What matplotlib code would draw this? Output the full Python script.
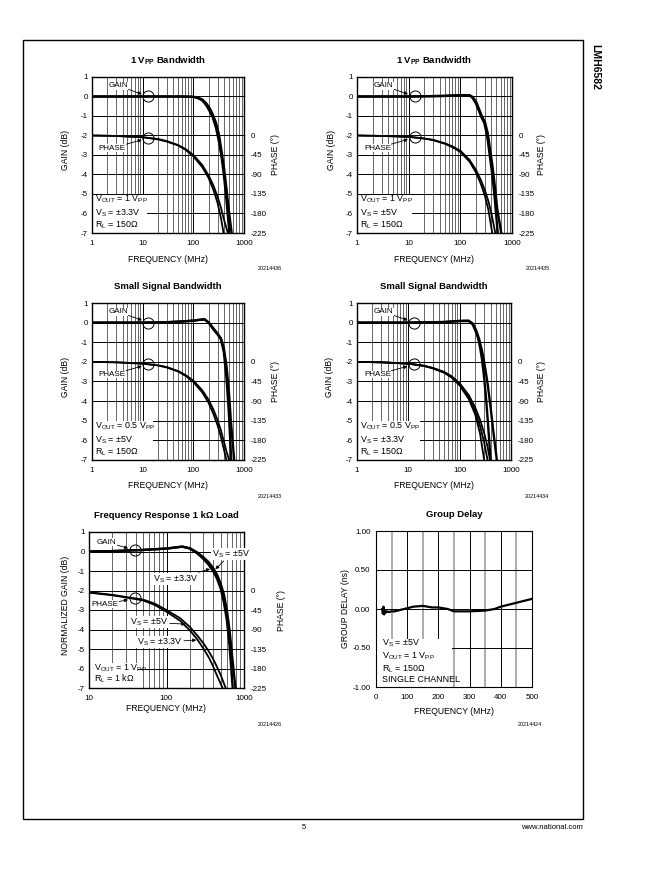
import numpy as np
import matplotlib
matplotlib.use('Agg')
import matplotlib.pyplot as plt
from matplotlib.patches import Rectangle
from matplotlib.ticker import LogLocator, NullFormatter, MultipleLocator

plt.rcParams['font.family'] = ['Liberation Sans', 'DejaVu Sans']
plt.rcParams['mathtext.fontset'] = 'custom'
plt.rcParams['mathtext.rm'] = 'Liberation Sans'
plt.rcParams['mathtext.bf'] = 'Liberation Sans:bold'
plt.rcParams['axes.unicode_minus'] = False

# ---- 1 Vpp bandwidth, Vs = +/-3.3V
p1_gain_f = [[1, 10, 50, 100, 120, 150, 180, 210, 240, 280, 320, 360, 400, 450, 515],
             [1, 10, 50, 100, 120, 150, 180, 210, 240, 280, 320, 360, 400, 450, 500, 570]]
p1_gain_db = [[0, 0, 0, -0.02, -0.07, -0.2, -0.45, -0.75, -1.05, -1.6, -2.3, -3.1, -4.0, -5.3, -7],
              [0, 0, 0, -0.01, -0.05, -0.15, -0.35, -0.6, -0.9, -1.35, -1.95, -2.8, -3.6, -4.7, -5.8, -7]]
p1_phase_f = [[1, 3, 10, 20, 30, 50, 70, 100, 150, 200, 250, 300, 350, 395],
              [1, 3, 10, 20, 30, 50, 70, 100, 150, 200, 250, 300, 350, 400, 480]]
p1_phase_deg = [[0, -1, -4, -9, -14, -23, -33, -48, -73, -98, -126, -155, -190, -225],
                [0, -1, -4, -8, -13, -22, -31, -45, -68, -92, -116, -141, -166, -193, -225]]

# ---- 1 Vpp bandwidth, Vs = +/-5V
p2_gain_f = [[1, 10, 50, 100, 150, 170, 200, 230, 260, 290, 330, 370, 410, 455, 530],
             [1, 10, 50, 100, 150, 175, 205, 235, 265, 300, 340, 380, 420, 470, 520, 620]]
p2_gain_db = [[0, 0, 0.03, 0.06, 0.06, -0.05, -0.35, -0.75, -1.1, -1.35, -2.0, -3.0, -3.9, -5.0, -7],
              [0, 0, 0.03, 0.07, 0.07, -0.03, -0.3, -0.7, -1.05, -1.3, -1.9, -2.8, -3.6, -4.7, -5.8, -7]]
p2_phase_f = [[1, 3, 10, 20, 30, 50, 70, 100, 150, 200, 250, 300, 350, 415],
              [1, 3, 10, 20, 30, 50, 70, 100, 150, 200, 250, 300, 350, 400, 475]]
p2_phase_deg = [[0, -1, -3, -7, -11, -19, -27, -38, -60, -85, -112, -140, -172, -225],
                [0, -1, -3, -7, -10, -18, -25, -35, -56, -79, -103, -127, -152, -180, -225]]

# ---- small signal, Vs = +/-5V
p3_gain_f = [[1, 10, 30, 60, 100, 130, 165, 200, 250, 300, 350, 400, 450, 500, 560],
             [1, 10, 30, 60, 100, 130, 165, 200, 250, 300, 350, 400, 450, 500, 550, 640]]
p3_gain_db = [[0, 0, 0.02, 0.06, 0.1, 0.14, 0.17, 0.0, -0.35, -0.6, -0.85, -1.5, -2.8, -4.5, -7],
              [0, 0, 0.02, 0.06, 0.1, 0.14, 0.17, 0.02, -0.3, -0.55, -0.8, -1.3, -2.2, -3.4, -5.0, -7]]
p3_phase_f = [[1, 3, 10, 20, 30, 50, 70, 100, 150, 200, 250, 300, 350, 400, 450],
              [1, 3, 10, 20, 30, 50, 70, 100, 150, 200, 250, 300, 350, 400, 450, 510]]
p3_phase_deg = [[0, -1, -4, -8, -13, -22, -32, -46, -70, -94, -120, -145, -172, -200, -225],
                [0, -1, -4, -8, -12, -21, -30, -43, -65, -87, -110, -133, -157, -182, -205, -225]]

# ---- small signal, Vs = +/-3.3V
p4_gain_f = [[1, 10, 50, 100, 150, 180, 210, 240, 270, 300, 330, 360, 400],
             [1, 10, 50, 100, 150, 180, 210, 240, 270, 300, 350, 400, 450, 530]]
p4_gain_db = [[0, 0, 0.03, 0.08, 0.08, -0.1, -0.5, -1.0, -1.8, -2.8, -4.0, -5.3, -7],
              [0, 0, 0.03, 0.09, 0.1, -0.05, -0.4, -0.85, -1.4, -2.0, -3.1, -4.3, -5.5, -7]]
p4_phase_f = [[1, 3, 10, 20, 30, 50, 70, 100, 150, 200, 250, 300],
              [1, 3, 10, 20, 30, 50, 70, 100, 150, 200, 250, 300, 350],
              [1, 3, 10, 20, 30, 50, 70, 100, 150, 200, 250, 300, 350, 390]]
p4_phase_deg = [[0, -1, -4, -9, -15, -25, -36, -54, -85, -120, -165, -225],
                [0, -1, -4, -9, -14, -24, -35, -51, -80, -112, -147, -185, -225],
                [0, -1, -4, -9, -14, -23, -33, -49, -76, -104, -133, -163, -195, -225]]

# ---- 1k load
p5_gain_f5 = [10, 20, 50, 100, 160, 200, 250, 300, 350, 400, 450, 500, 550, 600, 650, 700, 775]
p5_gain_db5 = [0, 0.02, 0.08, 0.15, 0.25, 0.17, -0.05, -0.3, -0.55, -0.85, -1.2, -1.65, -2.2, -3.0, -4.0, -5.3, -7]
p5_gain_f33 = [10, 20, 50, 100, 160, 200, 250, 300, 350, 400, 450, 500, 550, 600, 650, 715]
p5_gain_db33 = [0, 0.02, 0.08, 0.15, 0.25, 0.15, -0.1, -0.38, -0.68, -1.0, -1.4, -1.9, -2.6, -3.5, -4.8, -7]
p5_phase_f5 = [10, 20, 30, 50, 70, 100, 150, 200, 250, 300, 350, 400, 450, 500, 580]
p5_phase_deg5 = [-4, -10, -15, -21, -30, -45, -64, -84, -104, -122, -140, -158, -177, -195, -225]
p5_phase_f33 = [10, 20, 30, 50, 70, 100, 150, 200, 250, 300, 350, 400, 450, 530]
p5_phase_deg33 = [-5, -11, -16, -23, -33, -49, -70, -92, -113, -134, -154, -175, -197, -225]

# ---- group delay
gd_freq = [20, 22, 24, 26, 28, 30, 35, 40, 50, 60, 70, 80, 100, 120, 150, 180, 200,
           230, 250, 300, 350, 380, 400, 450, 500]
gd_ns = [0.0, -0.06, 0.03, -0.07, -0.02, -0.05, -0.03, -0.04, -0.03, -0.03, -0.02, -0.01,
         0.01, 0.03, 0.04, 0.02, 0.02, 0.0, -0.03, -0.03, -0.02, 0.0, 0.03, 0.08, 0.13]

phase_ticks = [0, -45, -90, -135, -180, -225]
gain_ticks = [1, 0, -1, -2, -3, -4, -5, -6, -7]

W, H = 651.0, 872.0
fig = plt.figure(figsize=(6.51, 8.72), dpi=100)
TS = 5.8     # tick labels
LS = 6.2     # axis labels
NS = 6.4     # notes
TT = 6.8     # titles


def axes_px(x0, y0, x1, y1):
    return fig.add_axes([x0 / W, 1 - y1 / H, (x1 - x0) / W, (y1 - y0) / H])


def on_curve(f, y, at):
    return at, float(np.interp(np.log10(at), np.log10(f), y))


def bode(box, xlo, title, gf, gdb, pf, pdeg, notes, note_w, note_top, fid, ylab,
         lx, rx, ly, circ_f=13, gain_lbl=(3.3, 0.55), ph_lbl=(2.5, -29)):
    x0, y0, x1, y1 = box
    ax = axes_px(*box)
    ax.set_xscale('log')
    ax.set_xlim(xlo, 1000)
    ax.set_ylim(-7, 1)
    decs = [d for d in [1, 10, 100, 1000] if d >= xlo]
    ax.set_xticks(decs, labels=[str(d) for d in decs])
    ax.xaxis.set_minor_locator(LogLocator(base=10, subs=np.arange(2, 10)))
    ax.xaxis.set_minor_formatter(NullFormatter())
    ax.set_yticks(gain_ticks, labels=[str(t) for t in gain_ticks])
    ax.set_axisbelow(True)
    ax.grid(which='major', color='black', lw=0.7)
    ax.grid(which='minor', axis='x', color='0.3', lw=0.6)
    ax.tick_params(which='both', length=0, labelsize=TS)
    ax.tick_params(axis='y', pad=3)
    ax.tick_params(axis='x', pad=5)
    for s in ax.spines.values():
        s.set_linewidth(1.0)
    ax.add_patch(Rectangle((xlo, -7), note_w - xlo, note_top + 7, fc='white', ec='none', zorder=1))

    for f, g in zip(gf, gdb):
        ax.plot(f, g, color='black', lw=1.7, zorder=3)

    ph = ax.twinx()
    ph.set_ylim(-225, 135)
    ph.set_yticks(phase_ticks, labels=[str(t) for t in phase_ticks])
    ph.tick_params(length=0, labelsize=TS, pad=5)
    for s in ph.spines.values():
        s.set_visible(False)
    for f, p in zip(pf, pdeg):
        ph.plot(f, p, color='black', lw=1.3)

    ax.text(0.5, 1.103, title, transform=ax.transAxes,
            ha='center', va='center', fontsize=TT, fontweight='bold')
    ax.set_xlabel('FREQUENCY (MHz)', fontsize=LS)
    ax.set_ylabel(ylab, fontsize=LS)
    ph.set_ylabel('PHASE (°)', fontsize=LS)
    w, h = x1 - x0, y1 - y0
    ax.yaxis.set_label_coords((lx - x0) / w, 0.53)
    ax.yaxis.label.set_va('center')
    ph.yaxis.set_label_coords((rx - x0) / w, 0.5)
    ph.yaxis.label.set_va('center')
    ax.xaxis.set_label_coords(0.5, -(ly - y1) / h)
    ax.xaxis.label.set_va('center')

    nx = xlo * 1.15
    for txt, ty in notes:
        ax.text(nx, ty, txt, fontsize=NS, ha='left', va='center', zorder=4)

    # GAIN / PHASE markers
    cg = on_curve(gf[0], gdb[0], circ_f)
    cp = on_curve(pf[0], pdeg[0], circ_f)
    ax.plot(*cg, marker='o', ms=8, mfc='none', mec='black', mew=0.7, zorder=5)
    ph.plot(*cp, marker='o', ms=8, mfc='none', mec='black', mew=0.7, zorder=5)
    arr = dict(arrowstyle='-|>', color='black', lw=0.6, mutation_scale=5, shrinkA=0, shrinkB=5)
    ax.annotate('GAIN', xy=cg, xytext=gain_lbl, fontsize=5.8, ha='center', va='center',
                arrowprops=arr, bbox=dict(fc='white', ec='none', pad=0.3), zorder=5)
    ph.annotate('PHASE', xy=cp, xytext=ph_lbl, fontsize=5.8, ha='center', va='center',
                arrowprops=arr, bbox=dict(fc='white', ec='none', pad=0.3), zorder=5)

    fig.text((x1 + 38) / W, 1 - (y1 + 36) / H, fid, ha='right', va='center', fontsize=3.9)
    return ax, ph


notes1 = [(r'V$_{\rm OUT}$ = 1 V$_{\rm PP}$', -5.26), (r'V$_{\rm S}$ = ±3.3V', -5.97),
          (r'R$_{\rm L}$ = 150Ω', -6.58)]
notes2 = [(r'V$_{\rm OUT}$ = 1 V$_{\rm PP}$', -5.26), (r'V$_{\rm S}$ = ±5V', -5.97),
          (r'R$_{\rm L}$ = 150Ω', -6.58)]
notes3 = [(r'V$_{\rm OUT}$ = 0.5 V$_{\rm PP}$', -5.26), (r'V$_{\rm S}$ = ±5V', -5.97),
          (r'R$_{\rm L}$ = 150Ω', -6.58)]
notes4 = [(r'V$_{\rm OUT}$ = 0.5 V$_{\rm PP}$', -5.26), (r'V$_{\rm S}$ = ±3.3V', -5.97),
          (r'R$_{\rm L}$ = 150Ω', -6.58)]
notes5 = [(r'V$_{\rm OUT}$ = 1 V$_{\rm PP}$', -6.0), (r'R$_{\rm L}$ = 1 kΩ', -6.55)]

bode((92, 77, 244, 233), 1, r'1 V$_{\bf PP}$ Bandwidth', p1_gain_f, p1_gain_db, p1_phase_f,
     p1_phase_deg, notes1, 12, -5.03, '20214436', 'GAIN (dB)', 65, 276, 259)
bode((357, 77, 512, 233), 1, r'1 V$_{\bf PP}$ Bandwidth', p2_gain_f, p2_gain_db, p2_phase_f,
     p2_phase_deg, notes2, 11.5, -5.03, '20214435', 'GAIN (dB)', 331, 542, 259)
bode((92, 303, 244, 460), 1, 'Small Signal Bandwidth', p3_gain_f, p3_gain_db, p3_phase_f,
     p3_phase_deg, notes3, 16, -5.03, '20214433', 'GAIN (dB)', 65, 276, 485)
bode((357, 303, 511, 460), 1, 'Small Signal Bandwidth', p4_gain_f, p4_gain_db, p4_phase_f,
     p4_phase_deg, notes4, 17, -5.03, '20214434', 'GAIN (dB)', 330, 542, 485)
ax5, ph5 = bode((89, 532, 244, 688), 10, 'Frequency Response 1 kΩ Load',
                [p5_gain_f5, p5_gain_f33], [p5_gain_db5, p5_gain_db33],
                [p5_phase_f5, p5_phase_f33], [p5_phase_deg5, p5_phase_deg33],
                notes5, 43, -5.7, '20214426', 'NORMALIZED GAIN (dB)', 66, 281, 708,
                circ_f=39, gain_lbl=(17, 0.48), ph_lbl=(16, -32))

arr5 = dict(arrowstyle='-|>', color='black', lw=0.6, mutation_scale=5, shrinkA=1, shrinkB=1)
wb = dict(fc='white', ec='none', pad=0.3)
ax5.annotate(r'V$_{\rm S}$ = ±5V', xy=on_curve(p5_gain_f5, p5_gain_db5, 415), xytext=(680, -0.12),
             fontsize=NS, ha='center', va='center', arrowprops=arr5, bbox=wb, zorder=5)
ax5.annotate(r'V$_{\rm S}$ = ±3.3V', xy=on_curve(p5_gain_f33, p5_gain_db33, 380), xytext=(130, -1.4),
             fontsize=NS, ha='center', va='center', arrowprops=arr5, bbox=wb, zorder=5)
ph5.annotate(r'V$_{\rm S}$ = ±5V', xy=on_curve(p5_phase_f5, p5_phase_deg5, 183), xytext=(59, -73),
             fontsize=NS, ha='center', va='center', arrowprops=arr5, bbox=wb, zorder=5)
ph5.annotate(r'V$_{\rm S}$ = ±3.3V', xy=on_curve(p5_phase_f33, p5_phase_deg33, 253), xytext=(81, -119),
             fontsize=NS, ha='center', va='center', arrowprops=arr5, bbox=wb, zorder=5)

# ---- group delay panel
box6 = (376, 531, 532, 687)
ax6 = axes_px(*box6)
ax6.set_xlim(0, 500)
ax6.set_ylim(-1, 1)
ax6.set_xticks(range(0, 501, 100))
ax6.xaxis.set_minor_locator(MultipleLocator(50))
gd_yt = [1.0, 0.5, 0.0, -0.5, -1.0]
ax6.set_yticks(gd_yt, labels=['%.2f' % v for v in gd_yt])
ax6.set_axisbelow(True)
ax6.grid(which='major', color='black', lw=0.7)
ax6.grid(which='minor', axis='x', color='0.65', lw=1.3)
ax6.tick_params(which='both', length=0, labelsize=TS)
ax6.tick_params(axis='y', pad=4)
ax6.tick_params(axis='x', pad=5)
ax6.add_patch(Rectangle((0, -1), 243, 0.62, fc='white', ec='none', zorder=1))
ax6.plot(gd_freq, gd_ns, color='black', lw=1.6, zorder=3)
ax6.text(0.5, 1.103, 'Group Delay', transform=ax6.transAxes, ha='center', va='center',
         fontsize=TT, fontweight='bold')
ax6.set_xlabel('FREQUENCY (MHz)', fontsize=LS)
ax6.set_ylabel('GROUP DELAY (ns)', fontsize=LS)
ax6.yaxis.set_label_coords((345 - 376) / 156, 0.5)
ax6.yaxis.label.set_va('center')
ax6.xaxis.set_label_coords(0.5, -(711 - 687) / 156)
ax6.xaxis.label.set_va('center')
for txt, ty in [(r'V$_{\rm S}$ = ±5V', -0.44), (r'V$_{\rm OUT}$ = 1 V$_{\rm PP}$', -0.61),
                (r'R$_{\rm L}$ = 150Ω', -0.77), ('SINGLE CHANNEL', -0.91)]:
    ax6.text(18, ty, txt, fontsize=NS, ha='left', va='center', zorder=4)
fig.text(542 / W, 1 - 724 / H, '20214424', ha='right', va='center', fontsize=3.9)

# ---- page furniture
fig.add_artist(Rectangle((23 / W, 1 - 819 / H), 560 / W, 779 / H, transform=fig.transFigure,
                         fill=False, ec='black', lw=1.0))
fig.text(595 / W, 1 - 67 / H, 'LMH6582', rotation=-90, ha='center', va='center',
         fontsize=7.5, fontweight='bold')
fig.text(304 / W, 1 - 827 / H, '5', ha='center', va='center', fontsize=5.5)
fig.text(583 / W, 1 - 827 / H, 'www.national.com', ha='right', va='center', fontsize=5.5)

fig.savefig('out.png', dpi=100)
